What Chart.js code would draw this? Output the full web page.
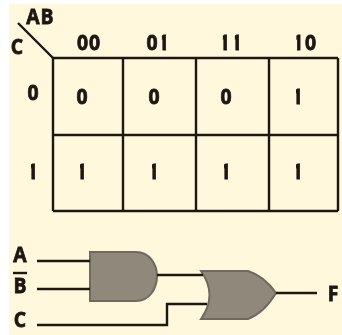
<!DOCTYPE html>
<html>
<head>
<meta charset="utf-8">
<style>
  html, body { margin: 0; background: #fff; }
  canvas { display: block; filter: blur(0.35px); }
</style>
<script src="https://cdn.jsdelivr.net/npm/chart.js@4/dist/chart.umd.min.js"></script>
</head>
<body>
<canvas id="kmap" width="342" height="335"></canvas>
<script>
"use strict";
/* Karnaugh map for F with the AND/OR circuit under it. The axes are plain pixel
   scales, everything is placed through them. */
const colLabels = ["00", "01", "11", "10"];
const rowLabels = ["0", "1"];
const row0 = ["0", "0", "0", "1"];
const row1 = ["1", "1", "1", "1"];
const rowVarLabel = "C";
const colVarLabel = "AB";
const inputLabels = ["A", "B", "C"];
const outputLabel = "F";

// layout, in scale units
const gridX = [53, 123, 196, 269, 338];
const gridY = [58, 135, 211];
const cellX = [82, 154, 226, 298];
const cellY = [97, 172];
const headX = [88.5, 158, 231, 304.5];
const INK = "#1c1712", CREAM = "#fff8dc";

const seg = (x0, y0, x1, y1) => [{ x: x0, y: y0 }, { x: x1, y: y1 }];
const wire = (data, w) => ({ data, showLine: true, borderColor: INK, borderWidth: w || 2.4, pointRadius: 0, tension: 0, fill: false });

const datasets = [];
gridX.forEach((x) => datasets.push(wire(seg(x, gridY[0], x, gridY[2]))));
gridY.forEach((y) => datasets.push(wire(seg(gridX[0], y, gridX[4], y))));
datasets.push(wire(seg(18, 23, 53, 58)));
datasets.push(wire(seg(37, 261, 90, 261)));
datasets.push(wire(seg(37, 289, 90, 289)));
datasets.push(wire(seg(157, 275, 203, 275)));
datasets.push(wire([{ x: 37, y: 325 }, { x: 167, y: 325 }, { x: 167, y: 304 }, { x: 207, y: 304 }]));
datasets.push(wire(seg(276, 293, 317, 293)));
datasets.push(wire(seg(13, 273, 27, 273)));

// letters of this face: bold, a bit narrow, the 1 is a bare stem
function glyph(ctx, ch, cx, cy) {
  ctx.save();
  ctx.translate(cx, cy);
  ctx.scale(0.88, 1);
  ctx.font = "bold 22px 'Open Sans'";
  ctx.textBaseline = "middle";
  ctx.fillStyle = INK; ctx.strokeStyle = INK; ctx.lineWidth = 0.8;
  if (ch === "1") {
    ctx.beginPath(); ctx.rect(-2.4, -12, 4.8, 24); ctx.clip();
    ctx.textAlign = "left";
    ctx.fillText(ch, -7.2, 1); ctx.strokeText(ch, -7.2, 1);
  } else {
    ctx.textAlign = "center";
    ctx.fillText(ch, 0, 1); ctx.strokeText(ch, 0, 1);
  }
  ctx.restore();
}

const drawKmap = {
  id: "drawKmap",
  beforeDatasetsDraw(chart) {
    const { ctx, scales: { x, y } } = chart;
    const px = (v) => x.getPixelForValue(v), py = (v) => y.getPixelForValue(v);
    ctx.save();
    ctx.fillStyle = CREAM;
    ctx.fillRect(px(9), py(4), px(342) - px(9), py(335) - py(4));

    // AND gate
    ctx.beginPath();
    ctx.moveTo(px(90), py(252));
    ctx.lineTo(px(136), py(252));
    ctx.bezierCurveTo(px(150), py(252), px(157), py(265), px(157), py(276));
    ctx.bezierCurveTo(px(157), py(288), px(150), py(301), px(136), py(301));
    ctx.lineTo(px(90), py(301));
    ctx.closePath();
    ctx.fillStyle = "#8f887b"; ctx.strokeStyle = "#6f695e"; ctx.lineWidth = 2;
    ctx.fill(); ctx.stroke();

    // OR gate
    ctx.beginPath();
    ctx.moveTo(px(201), py(271));
    ctx.lineTo(px(248), py(271));
    ctx.quadraticCurveTo(px(264), py(276), px(276), py(293));
    ctx.quadraticCurveTo(px(264), py(313), px(248), py(319));
    ctx.lineTo(px(201), py(319));
    ctx.quadraticCurveTo(px(218), py(295), px(201), py(271));
    ctx.closePath();
    ctx.fill(); ctx.stroke();
    ctx.restore();
  },
  afterDatasetsDraw(chart) {
    const { ctx, scales: { x, y } } = chart;
    const px = (v) => x.getPixelForValue(v), py = (v) => y.getPixelForValue(v);
    ctx.save();
    colLabels.forEach((s, i) => {
      glyph(ctx, s[0], px(headX[i] - 6), py(42.5));
      glyph(ctx, s[1], px(headX[i] + 6), py(42.5));
    });
    rowLabels.forEach((s, i) => glyph(ctx, s, px(33), py(cellY[i] - 4 + i * 4)));
    [row0, row1].forEach((row, r) => row.forEach((s, c) => glyph(ctx, s, px(cellX[c]), py(cellY[r]))));
    glyph(ctx, rowVarLabel, px(17), py(46.5));
    glyph(ctx, colVarLabel[0], px(33), py(16.5));
    glyph(ctx, colVarLabel[1], px(47), py(16.5));
    glyph(ctx, inputLabels[0], px(20), py(254.5));
    glyph(ctx, inputLabels[1], px(20), py(286));
    glyph(ctx, inputLabels[2], px(20), py(319.5));
    glyph(ctx, outputLabel, px(333), py(293.5));
    ctx.restore();
  },
};

new Chart(document.getElementById("kmap"), {
  type: "scatter",
  data: { datasets },
  plugins: [drawKmap],
  options: {
    responsive: false,
    animation: false,
    layout: { padding: 0 },
    clip: false,
    scales: {
      x: { type: "linear", min: 0, max: 342, display: false },
      y: { type: "linear", min: 0, max: 335, reverse: true, display: false },
    },
    plugins: { legend: { display: false }, tooltip: { enabled: false }, title: { display: false } },
  },
});
</script>
</body>
</html>
